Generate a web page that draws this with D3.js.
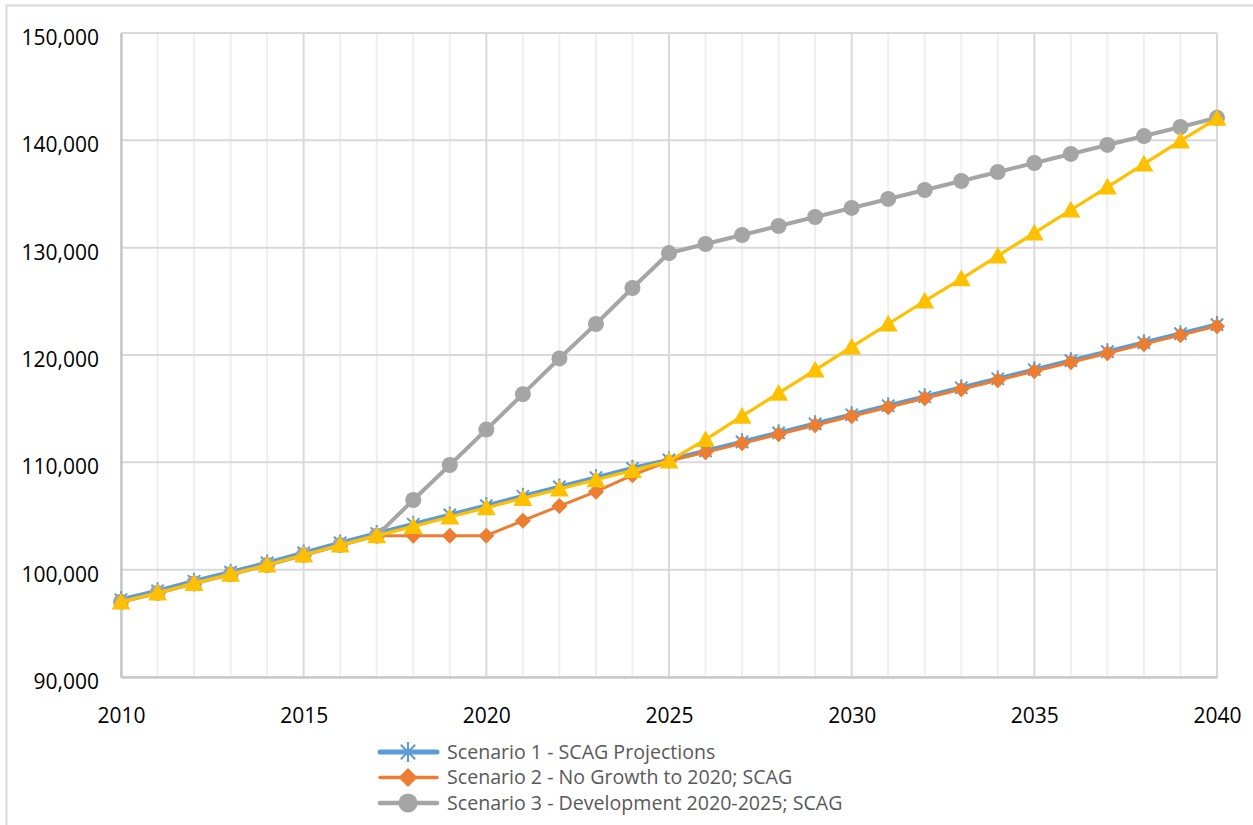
<!DOCTYPE html>
<html>
<head>
<meta charset="utf-8">
<script src="https://cdn.jsdelivr.net/npm/d3@7"></script>
<style>
  html, body { margin: 0; padding: 0; background: #fff; }
  svg { display: block; font-family: "Open Sans", "Noto Sans", sans-serif; }
</style>
</head>
<body>
<svg id="chart" width="1253" height="825"></svg>
<script>
// Population projections by scenario, 2010-2040
const years = d3.range(2010, 2041);

const scenario1 = [97200, 98030, 98920, 99770, 100630, 101560, 102490, 103370,
  104230, 105100, 105970, 106840, 107710, 108580, 109450, 110230,
  111070, 111910, 112750, 113590, 114430, 115270, 116110, 116950,
  117790, 118630, 119470, 120310, 121150, 121990, 122830];

const scenario2 = [97000, 97830, 98720, 99570, 100430, 101360, 102290, 103170,
  103170, 103170, 103170, 104560, 105930, 107270, 108800, 110120,
  110930, 111770, 112610, 113450, 114290, 115130, 115970, 116810,
  117650, 118490, 119330, 120170, 121010, 121850, 122690];

const scenario3 = [97000, 97830, 98720, 99570, 100430, 101360, 102290, 103170,
  106490, 109750, 113050, 116350, 119680, 122890, 126240, 129500,
  130340, 131180, 132020, 132860, 133700, 134540, 135370, 136210,
  137050, 137890, 138730, 139570, 140400, 141240, 142100];

const scenario4 = [97000, 97830, 98720, 99570, 100430, 101360, 102290, 103170,
  104030, 104900, 105770, 106640, 107510, 108380, 109250, 110120,
  112120, 114300, 116440, 118600, 120750, 122890, 125030, 127100,
  129230, 131370, 133510, 135650, 137800, 139940, 142050];

const xTicks = [2010, 2015, 2020, 2025, 2030, 2035, 2040];
const yTicks = [90000, 100000, 110000, 120000, 130000, 140000, 150000];

const legendLabels = [
  "Scenario 1 - SCAG Projections",
  "Scenario 2 - No Growth to 2020; SCAG",
  "Scenario 3 - Development 2020-2025; SCAG"
];

const svg = d3.select("#chart");

// outer chart frame
svg.append("rect")
  .attr("x", 6.5).attr("y", 5.5)
  .attr("width", 1300).attr("height", 900)
  .attr("fill", "#fff")
  .attr("stroke", "#d9d9d9").attr("stroke-width", 2);

const plotLeft = 121, plotRight = 1217, plotTop = 33, plotBottom = 677;
const x = d3.scaleLinear().domain([2010, 2040]).range([plotLeft, plotRight]);
const y = d3.scaleLinear().domain([90000, 150000]).range([plotBottom, plotTop]);

// minor vertical gridlines (every year)
svg.append("g").selectAll("line")
  .data(years.filter(yr => yr % 5 !== 0))
  .join("line")
  .attr("x1", d => x(d)).attr("x2", d => x(d))
  .attr("y1", plotTop).attr("y2", plotBottom)
  .attr("stroke", "#efefef").attr("stroke-width", 2);

// major vertical gridlines
svg.append("g").selectAll("line")
  .data(xTicks)
  .join("line")
  .attr("x1", d => x(d)).attr("x2", d => x(d))
  .attr("y1", plotTop).attr("y2", plotBottom)
  .attr("stroke", "#d9d9d9").attr("stroke-width", 2);

// horizontal gridlines
svg.append("g").selectAll("line")
  .data(yTicks)
  .join("line")
  .attr("x1", plotLeft).attr("x2", plotRight)
  .attr("y1", d => y(d)).attr("y2", d => y(d))
  .attr("stroke", "#d9d9d9").attr("stroke-width", 2);

// axes
const xAxis = svg.append("g")
  .attr("transform", `translate(0,${plotBottom})`)
  .call(d3.axisBottom(x).tickValues(xTicks).tickFormat(d3.format("d")).tickSize(0).tickPadding(31));
const yAxis = svg.append("g")
  .attr("transform", `translate(${plotLeft},0)`)
  .call(d3.axisLeft(y).tickValues(yTicks).tickFormat(d3.format(",")).tickSize(0).tickPadding(22));

[xAxis, yAxis].forEach(g => {
  g.select(".domain").attr("stroke", "#c8c8c8").attr("stroke-width", 2.5);
  g.selectAll("text")
    .attr("fill", "#000")
    .style("font-size", "21px")
    .style("font-family", "'Open Sans', sans-serif");
});
yAxis.selectAll("text").attr("dy", "0.55em");
xAxis.selectAll("text").attr("dy", "0.7em");

// marker shapes
function asteriskPath(s) {
  const r = s / 2, d = r * 0.72;
  return `M0,${-r}L0,${r}M${-d},${-d}L${d},${d}M${-d},${d}L${d},${-d}`;
}
function diamondPath(s) {
  const r = s / 2;
  return `M0,${-r}L${r},0L0,${r}L${-r},0Z`;
}
function trianglePath(s) {
  const h = s * 0.88, w = s / 2;
  return `M0,${-h * 0.55}L${w},${h * 0.45}L${-w},${h * 0.45}Z`;
}

const series = [
  { values: scenario1, color: "#5b9bd5", width: 4.5, marker: "asterisk", size: 17 },
  { values: scenario2, color: "#ed7d31", width: 3, marker: "diamond", size: 16 },
  { values: scenario3, color: "#a5a5a5", width: 4, marker: "circle", size: 16 },
  { values: scenario4, color: "#ffc000", width: 3.2, marker: "triangle", size: 19 }
];

function drawMarker(g, s, size) {
  if (s.marker === "asterisk") {
    g.append("path").attr("d", asteriskPath(size))
      .attr("stroke", s.color).attr("stroke-width", 2).attr("fill", "none");
  } else if (s.marker === "diamond") {
    g.append("path").attr("d", diamondPath(size)).attr("fill", s.color);
  } else if (s.marker === "circle") {
    g.append("circle").attr("r", size / 2).attr("fill", s.color);
  } else {
    g.append("path").attr("d", trianglePath(size)).attr("fill", s.color);
  }
}

const line = d3.line().x((d, i) => x(years[i])).y(d => y(d));

series.forEach(s => {
  const g = svg.append("g");
  g.append("path")
    .datum(s.values)
    .attr("d", line)
    .attr("fill", "none")
    .attr("stroke", s.color)
    .attr("stroke-width", s.width)
    .attr("stroke-linejoin", "round");
  s.values.forEach((v, i) => {
    const m = g.append("g").attr("transform", `translate(${x(years[i])},${y(v)})`);
    drawMarker(m, s, s.size);
  });
});

// legend
const legend = svg.append("g");
legendLabels.forEach((label, i) => {
  const s = series[i];
  const ly = 752 + i * 25.5;
  const item = legend.append("g").attr("transform", `translate(0,${ly})`);
  item.append("line")
    .attr("x1", 380).attr("x2", 437).attr("y1", 0).attr("y2", 0)
    .attr("stroke", s.color).attr("stroke-width", s.width + 0.5)
    .attr("stroke-linecap", "round");
  const m = item.append("g").attr("transform", "translate(408,0)");
  drawMarker(m, s, s.size + 3);
  item.append("text")
    .attr("x", 447).attr("y", 0).attr("dy", "0.35em")
    .attr("fill", "#595959")
    .style("font-size", "19.6px")
    .text(label);
});
</script>
</body>
</html>
